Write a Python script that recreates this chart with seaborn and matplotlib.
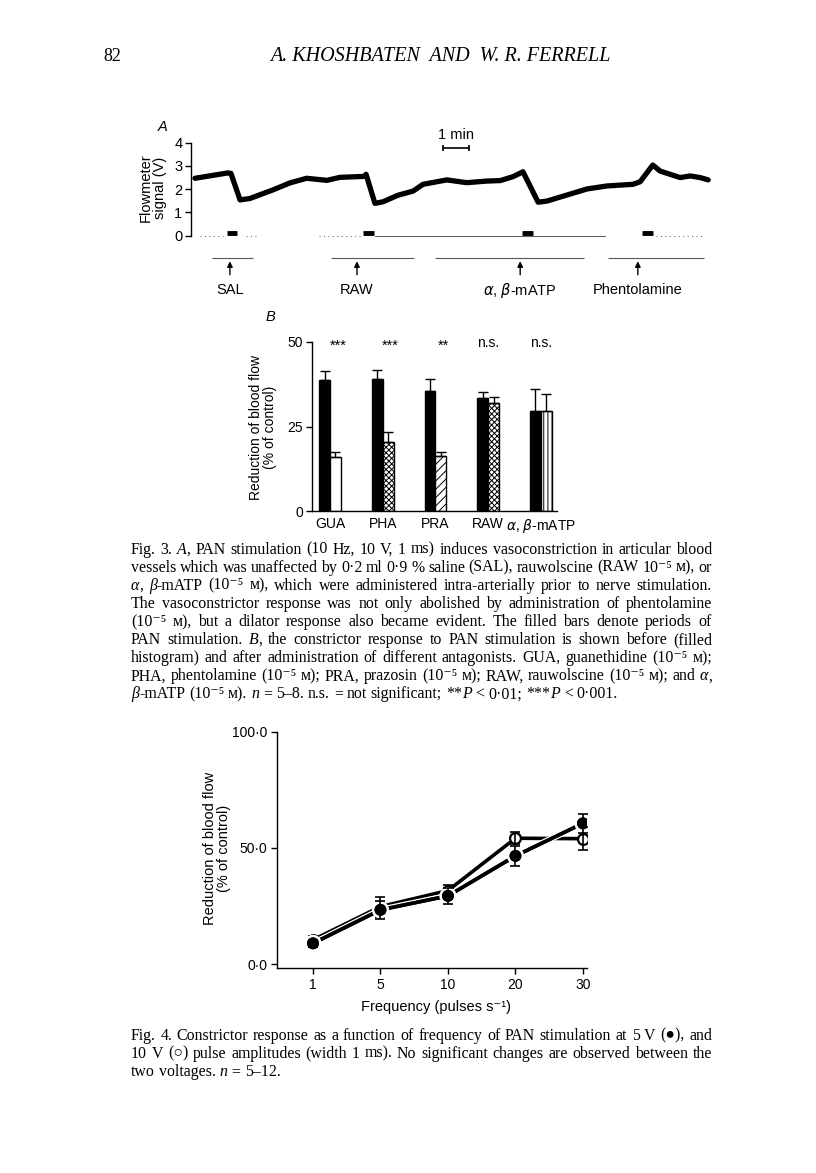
import numpy as np
import pandas as pd
import seaborn as sns
import matplotlib
matplotlib.use("Agg")
import matplotlib.pyplot as plt
from matplotlib import patheffects

# ---- Fig. 3A: flowmeter trace (breakpoints) ----
trace_t = [0.00, 1.30, 1.42, 1.78, 2.17, 3.08, 3.75, 4.41, 4.86, 5.21, 5.73,
           6.68, 6.76, 7.11, 7.43, 8.02, 8.62, 9.01, 9.95, 10.74, 11.53,
           12.06, 12.57, 12.96, 13.56, 13.91, 14.70, 15.49, 16.28, 17.31,
           17.59, 18.09, 18.38, 19.17, 19.57, 19.96, 20.28]
trace_v = [2.47, 2.70, 2.68, 1.54, 1.60, 1.97, 2.27, 2.47, 2.42, 2.38, 2.51,
           2.55, 2.64, 1.39, 1.46, 1.74, 1.92, 2.21, 2.40, 2.28, 2.35,
           2.37, 2.54, 2.75, 1.44, 1.49, 1.75, 2.01, 2.14, 2.21,
           2.32, 3.04, 2.78, 2.50, 2.57, 2.50, 2.40]
stim_start = [1.25, 6.64, 12.91, 17.66]
stim_end = [1.67, 7.08, 13.37, 18.09]
drug_names = ["SAL", "RAW", r"$\alpha$, $\beta$-mATP", "Phentolamine"]
drug_time = [1.38, 6.40, 12.85, 17.50]
marker_start = [0.67, 5.38, 9.47, 16.32]
marker_end = [2.29, 8.64, 15.36, 20.12]

# ---- Fig. 3B: bars ----
drugs = ["GUA", "PHA", "PRA", "RAW", r"$\alpha$, $\beta$-mATP"]
before = [38.8, 39.0, 35.5, 33.4, 29.6]
before_err = [2.6, 2.7, 3.5, 1.9, 6.4]
after = [16.1, 20.5, 16.4, 31.9, 29.6]
after_err = [1.5, 3.0, 1.2, 1.8, 5.0]
signif = ["***", "***", "**", "n.s.", "n.s."]

# ---- Fig. 4: frequency response ----
freq = ["1", "5", "10", "20", "30"]
v5 = [9.0, 23.4, 29.4, 46.6, 60.6]
v5_err = [1.5, 4.0, 3.6, 4.2, 4.0]
v10 = [10.5, 24.8, 31.7, 54.2, 54.0]
v10_err = [1.7, 4.3, 2.4, 2.5, 4.9]

fig3_caption = [
    "Fig. 3. ~A~, PAN stimulation (10 Hz, 10 V, 1 ms) induces vasoconstriction in articular blood",
    "vessels which was unaffected by 0·2 ml 0·9 % saline (SAL), rauwolscine (RAW 10⁻⁵ ᴍ), or",
    "~α~, ~β~-mATP (10⁻⁵ ᴍ), which were administered intra-arterially prior to nerve stimulation.",
    "The vasoconstrictor response was not only abolished by administration of phentolamine",
    "(10⁻⁵ ᴍ), but a dilator response also became evident. The filled bars denote periods of",
    "PAN stimulation. ~B~, the constrictor response to PAN stimulation is shown before (filled",
    "histogram) and after administration of different antagonists. GUA, guanethidine (10⁻⁵ ᴍ);",
    "PHA, phentolamine (10⁻⁵ ᴍ); PRA, prazosin (10⁻⁵ ᴍ); RAW, rauwolscine (10⁻⁵ ᴍ); and ~α~,",
    "~β~-mATP (10⁻⁵ ᴍ). ~n~ = 5–8. n.s. = not significant; **~P~ < 0·01; ***~P~ < 0·001.",
]
fig4_caption = [
    "Fig. 4. Constrictor response as a function of frequency of PAN stimulation at 5 V (●), and",
    "10 V (○) pulse amplitudes (width 1 ms). No significant changes are observed between the",
    "two voltages. ~n~ = 5–12.",
]

sns.set_theme(style="ticks")
SANS = ["Liberation Sans", "DejaVu Sans"]
SERIF = ["Liberation Serif", "DejaVu Serif", "DejaVu Sans"]
plt.rcParams["font.family"] = SANS
plt.rcParams["text.color"] = "black"
plt.rcParams["axes.edgecolor"] = "black"
plt.rcParams["xtick.color"] = "black"
plt.rcParams["ytick.color"] = "black"
plt.rcParams["hatch.linewidth"] = 0.7

W, H = 816, 1173
fig = plt.figure(figsize=(W / 100, H / 100), dpi=100)
fig.patch.set_facecolor("white")


def box(left, top, right, bottom):
    return fig.add_axes([left / W, 1 - bottom / H, (right - left) / W, (bottom - top) / H])


def ftext(x, y, s, **kw):
    return fig.text(x / W, 1 - y / H, s, **kw)


def clean(ax, keep=("left", "bottom")):
    for side in ["top", "right", "left", "bottom"]:
        ax.spines[side].set_visible(side in keep)
        ax.spines[side].set_linewidth(1.0)
    ax.set_facecolor("none")


# header
ftext(103, 61, "82", family=SERIF, fontsize=13, va="baseline")
ftext(440, 61, "A. KHOSHBATEN  AND  W. R. FERRELL", family=SERIF, fontsize=14.5,
      style="italic", ha="center", va="baseline")

# ---------------- panel A ----------------
axA = box(190.7, 142.7, 712, 235.7)
sns.lineplot(x=trace_t, y=trace_v, sort=False, estimator=None, color="black",
             lw=3.8, ax=axA)
axA.set_xlim(-0.17, 20.43)
axA.set_ylim(0, 4)
axA.set_yticks([0, 1, 2, 3, 4])
axA.set_xticks([])
clean(axA, keep=("left",))
axA.tick_params(axis="y", length=4, width=1, labelsize=10.5, pad=2)
for s, e in zip(stim_start, stim_end):
    axA.plot([s, e], [0.13, 0.13], color="black", lw=3.5, solid_capstyle="butt", clip_on=False)
for s, e in [(0.2, 1.1), (2.0, 2.5), (4.9, 6.6), (18.2, 20.1)]:
    axA.plot([s, e], [0, 0], color="0.45", lw=0.8, ls=(0, (1, 3)), clip_on=False)
axA.plot([7.1, 16.2], [0, 0], color="0.35", lw=0.7, clip_on=False)
axA.hlines([-0.96] * 4, marker_start, marker_end, color="0.35", lw=0.8, clip_on=False)
for t, name in zip(drug_time, drug_names):
    axA.annotate("", xy=(t, -0.98), xytext=(t, -1.8), annotation_clip=False,
                 arrowprops=dict(arrowstyle="-|>", color="black", lw=1, mutation_scale=8))
    axA.text(t, -2.35, name, ha="center", va="center", fontsize=10.5, clip_on=False)
axA.plot([9.81, 10.81], [3.78, 3.78], color="black", lw=1.2, marker="|", ms=5,
         mew=1.2, clip_on=False)
axA.text(10.31, 4.33, "1 min", ha="center", va="center", fontsize=10.5, clip_on=False)
ftext(153, 188, "Flowmeter\nsignal (V)", rotation=90, ha="center", va="center",
      fontsize=10.5, linespacing=1.05)
ftext(163, 127, "A", style="italic", fontsize=10.5, ha="center", va="center")

# ---------------- panel B ----------------
axB = box(311.7, 342, 556.7, 511.3)
dfB = pd.DataFrame({
    "drug": drugs * 2,
    "val": before + after,
    "cond": ["before"] * 5 + ["after"] * 5,
})
sns.barplot(data=dfB, x="drug", y="val", hue="cond", hue_order=["before", "after"],
            palette=["black", "white"], width=0.41, gap=0, errorbar=None,
            edgecolor="black", linewidth=1, legend=False, ax=axB)
bars = sorted(axB.patches, key=lambda p: p.get_x())
hatches = ["", "xxxxxx", "////", "xxxxxx", "||||"]
errs = []
for i in range(5):
    errs += [before_err[i], after_err[i]]
    bars[2 * i + 1].set_hatch(hatches[i])
for p, e in zip(bars, errs):
    xc = p.get_x() + p.get_width() / 2
    axB.errorbar(xc, p.get_height(), yerr=[[0], [e]], fmt="none", ecolor="black",
                 elinewidth=1, capsize=3.5, capthick=1)
for i, s in enumerate(signif):
    off = 0.15 if s.startswith("*") else 0.0
    axB.text(i + off, 49.0 if s.startswith("*") else 49.8, s, ha="center", va="center",
             fontsize=10.5 if s.startswith("*") else 10, clip_on=False)
axB.set_xlim(-0.347, 4.30)
axB.set_ylim(0, 50)
axB.set_yticks([0, 25, 50])
axB.set(xlabel="", ylabel="")
clean(axB)
axB.tick_params(axis="y", length=4, width=1, labelsize=10, pad=2)
axB.tick_params(axis="x", length=0, labelsize=10, pad=4)
ftext(263, 427, "Reduction of blood flow\n(% of control)", rotation=90, ha="center",
      va="center", fontsize=10, linespacing=1.05)
ftext(270, 317, "B", style="italic", fontsize=10.5, ha="center", va="center")

# ---------------- Fig. 4 ----------------
axC = box(277.3, 731.7, 587, 968)
sns.lineplot(x=freq, y=v10, sort=False, color="black", lw=2.6, marker="o",
             ms=7.8, mfc="white", mec="black", mew=1.6, ax=axC)
axC.errorbar(freq, v10, yerr=v10_err, fmt="none", ecolor="black", elinewidth=1.2,
             capsize=3.5, capthick=1.2)
sns.lineplot(x=freq, y=v5, sort=False, color="black", lw=2.6, marker="o", ms=7.8,
             mfc="black", mec="black", ax=axC)
axC.lines[-1].set_path_effects([patheffects.withStroke(linewidth=4.6, foreground="white"),
                                patheffects.Normal()])
axC.errorbar(freq, v5, yerr=v5_err, fmt="none", ecolor="black", elinewidth=1.2,
             capsize=3.5, capthick=1.2)
axC.set_xlim(-0.529, 4.06)
axC.set_ylim(-1.6, 100)
axC.set_yticks([0, 50, 100])
axC.set_yticklabels(["0·0", "50·0", "100·0"])
clean(axC)
axC.tick_params(axis="both", length=4, width=1, labelsize=10, pad=3)
ftext(436, 1007, "Frequency (pulses s⁻¹)", ha="center", va="center", fontsize=10.5)
ftext(217, 848, "Reduction of blood flow\n(% of control)", rotation=90, ha="center",
      va="center", fontsize=10.5, linespacing=1.05)

# ---------------- captions (justified, word by word) ----------------
renderer = fig.canvas.get_renderer()
LEFT, RIGHT = 131, 712


def caption_line(y, line, justify, size=11.4):
    words = []
    for w in line.split(" "):
        runs = []
        for k, part in enumerate(w.split("~")):
            if part:
                t = ftext(0, y + 4.5, part, family=SERIF, fontsize=size, va="baseline",
                          style="italic" if k % 2 else "normal")
                runs.append(t)
        words.append(runs)
    widths = [[t.get_window_extent(renderer).width for t in runs] for runs in words]
    total = sum(sum(ws) for ws in widths)
    gap = size * 0.25 * 100 / 72
    if justify and len(words) > 1:
        gap = max((RIGHT - LEFT - total) / (len(words) - 1), 1.5)
    x = LEFT
    for runs, ws in zip(words, widths):
        for t, w in zip(runs, ws):
            t.set_x(x / W)
            x += w
        x += gap


for k, line in enumerate(fig3_caption):
    caption_line(549 + k * 18.1, line, k < len(fig3_caption) - 1)
for k, line in enumerate(fig4_caption):
    caption_line(1035 + k * 18.1, line, k < len(fig4_caption) - 1)

fig.savefig("out.png", dpi=100, facecolor="white")
